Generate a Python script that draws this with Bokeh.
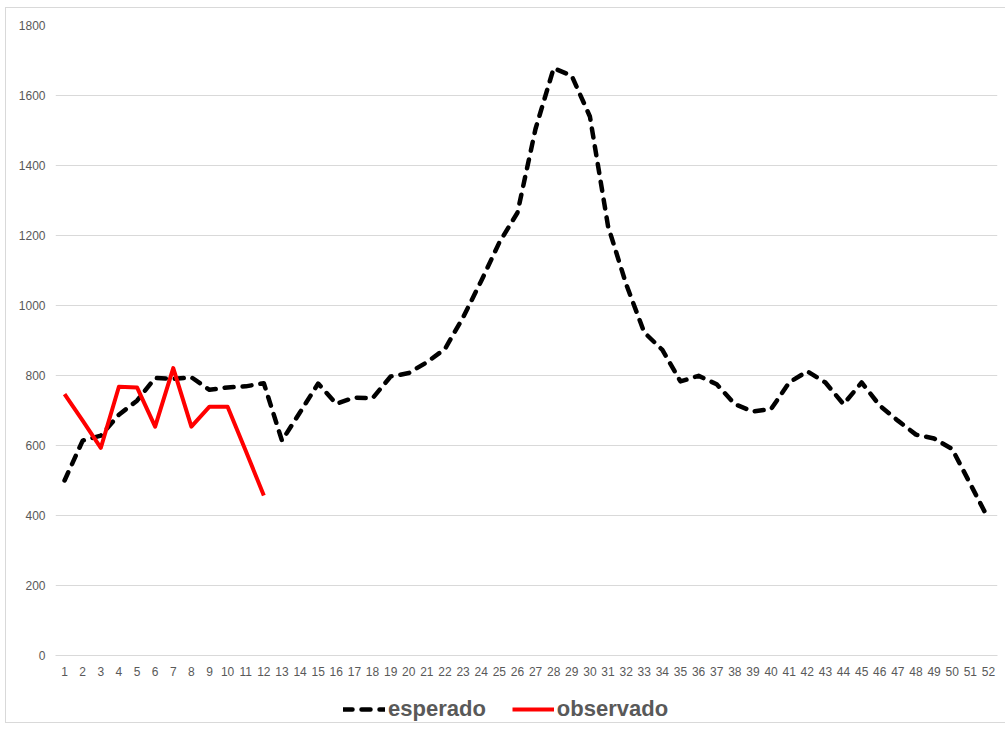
from bokeh.plotting import figure
from bokeh.layouts import column
from bokeh.models import FactorRange, Range1d, Legend, LegendItem, FixedTicker, ColumnDataSource
from bokeh.embed import file_html
from bokeh.resources import INLINE

semanas = [str(i) for i in range(1, 53)]
esperado = [500, 614, 628, 688, 728, 793, 790, 795, 759, 766, 769, 778,
            614, 695, 777, 719, 737, 735, 797, 807, 838, 876, 966, 1070,
            1180, 1265, 1505, 1678, 1656, 1540, 1227, 1061, 923, 873, 783, 799,
            775, 718, 697, 704, 780, 812, 780, 718, 780, 714, 671, 631,
            620, 590, 490, 390]
observado = [747, 671, 593, 768, 766, 654, 821, 654, 711, 711, 585, 457]
y_ticks = [0, 200, 400, 600, 800, 1000, 1200, 1400, 1600, 1800]

FONT = "Liberation Sans"
GRAY = "#595959"
E_STYLE = dict(line_color="black", line_width=4.5, line_dash="9 9",
               line_cap="round", line_join="round")
O_STYLE = dict(line_color="#ff0000", line_width=4, line_join="round")

p = figure(x_range=FactorRange(factors=semanas, range_padding=0),
           y_range=Range1d(0, 1800),
           frame_width=942, frame_height=630, output_backend="svg", toolbar_location=None,
           min_border_left=49, min_border_right=8, min_border_top=17,
           min_border_bottom=0)
p.outline_line_color = None

src_e = ColumnDataSource(dict(x=semanas, y=esperado))
src_o = ColumnDataSource(dict(x=semanas[:len(observado)], y=observado))
p.line("x", "y", source=src_e, **E_STYLE)
p.line("x", "y", source=src_o, **O_STYLE)

p.xgrid.grid_line_color = None
p.ygrid.grid_line_color = "#d9d9d9"
p.ygrid.grid_line_width = 1
p.yaxis.ticker = FixedTicker(ticks=y_ticks)
p.yaxis.axis_line_color = None
p.yaxis.major_tick_line_color = None
p.yaxis.minor_tick_line_color = None
p.yaxis.major_tick_out = 0
p.yaxis.major_label_standoff = 10
p.xaxis.axis_line_color = "#d9d9d9"
p.xaxis.major_tick_line_color = None
p.xaxis.minor_tick_line_color = None
p.xaxis.major_tick_out = 0
p.xaxis.major_label_standoff = 11
for ax in (p.xaxis, p.yaxis):
    ax.major_label_text_font = FONT
    ax.major_label_text_font_size = "12px"
    ax.major_label_text_color = GRAY

# legend strip below the chart (same series, drawn outside its visible window)
lg = figure(width=999, height=44,
            x_range=FactorRange(factors=semanas, range_padding=0),
            y_range=Range1d(-2000, -1900),
            x_axis_type=None, y_axis_type=None, output_backend="svg",
            toolbar_location=None, min_border=0)
lg.outline_line_color = None
lg.xgrid.visible = False
lg.ygrid.visible = False
le = lg.line("x", "y", source=src_e, **E_STYLE)
lo = lg.line("x", "y", source=src_o, **O_STYLE)
legend = Legend(items=[LegendItem(label="esperado", renderers=[le]),
                       LegendItem(label="observado", renderers=[lo])],
                orientation="horizontal", location=(288, 0),
                label_text_font=FONT, label_text_font_size="22px",
                label_text_font_style="bold", label_text_color=GRAY,
                glyph_width=42, glyph_height=20, label_standoff=3, spacing=26,
                border_line_color=None, background_fill_alpha=0,
                padding=4, margin=0)
lg.add_layout(legend, "center")

layout = column(p, lg, spacing=0)
layout.margin = (8, 0, 0, 6)
layout.styles = {"outline": "1px solid #d9d9d9"}

open("out.html", "w").write(file_html(layout, INLINE))
